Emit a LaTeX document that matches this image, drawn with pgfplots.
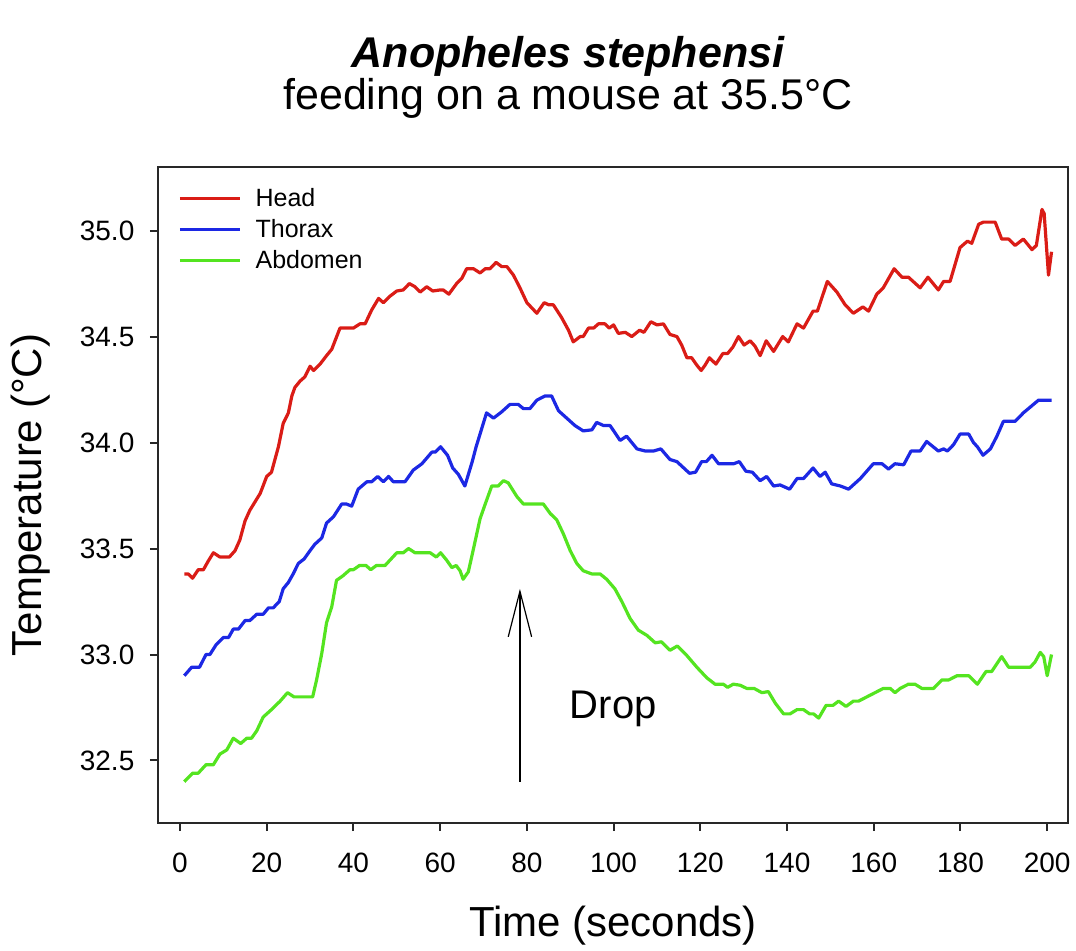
\documentclass[border=0pt]{standalone}
\usepackage{fontspec}
\setmainfont{Liberation Sans}
\usepackage{pgfplots}
\pgfplotsset{compat=1.18}
\usetikzlibrary{arrows.meta}
\definecolor{headred}{RGB}{218,28,22}
\definecolor{thoraxblue}{RGB}{28,40,228}
\definecolor{abdgreen}{RGB}{84,228,32}
\definecolor{framegray}{RGB}{40,40,40}

\begin{document}
\begin{tikzpicture}
\begin{axis}[
  at={(0pt,0pt)}, anchor=south west,
  scale only axis, width=455pt, height=328pt,
  xmin=-5.07, xmax=204.8, ymin=32.205, ymax=35.30,
  axis line style={framegray, line width=1pt},
  xtick={0,20,40,60,80,100,120,140,160,180,200},
  ytick={32.5,33.0,33.5,34.0,34.5,35.0},
  tick pos=left, tick align=outside, major tick length=4pt,
  tick style={framegray, line width=1pt},
  tick label style={font=\fontsize{14}{16}\selectfont, text=black},
  /pgf/number format/assume math mode=true,
  yticklabel style={/pgf/number format/fixed, /pgf/number format/fixed zerofill, /pgf/number format/precision=1, xshift=-4.3pt},
  xticklabel style={yshift=-7.3pt},
  xlabel={Time (seconds)},
  xlabel style={at={(rel axis cs:0.5,0)}, anchor=base, yshift=-56.5pt, font=\fontsize{21}{24}\selectfont},
  ylabel={Temperature (°C)},
  ylabel style={at={([xshift=-58pt]rel axis cs:0,0.5)}, rotate=0, anchor=base, font=\fontsize{21}{24}\selectfont},
  legend style={at={(0,1)}, anchor=north west, xshift=10pt, yshift=-10.45pt, draw=none, fill=none, inner sep=0pt,
    font=\fontsize{12.5}{15}\selectfont, row sep=4.9pt, nodes={inner sep=0pt},
    /tikz/every odd column/.append style={column sep=7pt}},
  legend cell align=left,
  legend image code/.code={\draw[#1] (0pt,0pt) -- (30pt,0pt);},
  every axis plot/.append style={line width=1.6pt, line join=round},
]
\addplot[headred] coordinates {
(1,33.38) (1.9,33.38) (2.9,33.36) (4.2,33.40) (5.4,33.40) (6.5,33.44) (7.7,33.48) (9.2,33.46) (11.4,33.46) (12.7,33.49) (13.8,33.54) (15.0,33.63) (16.1,33.68) (18.5,33.76) (20.0,33.84) (21.1,33.86) (22.7,33.98) (23.8,34.09) (25.0,34.14) (25.8,34.22) (26.5,34.26) (27.7,34.29) (28.8,34.31) (30.0,34.36) (30.8,34.34) (32.3,34.37) (33.8,34.41) (35.0,34.44) (36.9,34.54) (38.5,34.54) (40.0,34.54) (41.5,34.56) (42.7,34.56) (44.2,34.625) (45.8,34.68) (46.9,34.66) (48.4,34.69) (50.0,34.715) (51.5,34.72) (52.9,34.75) (54.2,34.735) (55.4,34.71) (56.9,34.735) (58.3,34.715) (60.0,34.72) (60.7,34.72) (62.0,34.70) (63.8,34.75) (65.0,34.775) (66.1,34.82) (67.7,34.82) (69.2,34.80) (70.4,34.82) (71.5,34.82) (72.9,34.85) (74.2,34.83) (75.4,34.83) (76.9,34.79) (78.4,34.73) (80.0,34.66) (82.3,34.61) (84.0,34.66) (85.0,34.65) (86.1,34.65) (88.0,34.59) (89.6,34.53) (90.7,34.475) (92.3,34.50) (93.0,34.50) (94.2,34.54) (95.4,34.54) (96.5,34.56) (98.0,34.56) (99.0,34.54) (100.0,34.555) (101.1,34.515) (102.7,34.52) (104.2,34.50) (106.0,34.53) (107.0,34.52) (108.6,34.57) (110.0,34.555) (111.5,34.56) (113.0,34.51) (114.6,34.50) (115.7,34.46) (116.9,34.40) (118.0,34.40) (119.2,34.365) (120.2,34.34) (121.1,34.365) (122.1,34.40) (123.6,34.37) (125.2,34.42) (126.3,34.42) (127.5,34.45) (128.8,34.50) (130.1,34.46) (131.5,34.48) (132.6,34.455) (133.8,34.41) (135.2,34.48) (136.9,34.43) (139.0,34.50) (140.3,34.475) (142.3,34.56) (143.8,34.54) (146.0,34.62) (147.0,34.62) (149.3,34.76) (151.5,34.71) (153.4,34.65) (155.3,34.61) (157.5,34.64) (158.8,34.62) (160.7,34.70) (162.2,34.73) (164.7,34.82) (166.5,34.78) (168.0,34.78) (170.7,34.73) (172.5,34.78) (174.9,34.72) (176.1,34.76) (177.6,34.76) (179.9,34.92) (181.6,34.95) (182.6,34.94) (184.2,35.03) (185.3,35.04) (188.0,35.04) (189.5,34.96) (191.1,34.96) (192.6,34.93) (194.5,34.96) (196.5,34.91) (197.5,34.93) (198.8,35.10) (199.3,35.08) (200.3,34.79) (201.0,34.90)
};
\addlegendentry{Head}
\addplot[thoraxblue] coordinates {
(1,32.90) (2.7,32.94) (4.5,32.94) (6.0,33.00) (6.9,33.00) (8.3,33.045) (10.0,33.08) (11.2,33.08) (12.3,33.12) (13.5,33.12) (15.0,33.16) (16.1,33.16) (17.7,33.19) (19.2,33.19) (20.4,33.22) (21.5,33.22) (22.9,33.25) (23.8,33.31) (25.0,33.34) (26.1,33.38) (27.3,33.43) (28.6,33.45) (30.0,33.49) (31.1,33.52) (32.7,33.55) (33.8,33.62) (35.4,33.65) (37.3,33.71) (38.4,33.71) (39.6,33.70) (41.1,33.78) (43.1,33.815) (44.2,33.815) (45.6,33.84) (46.9,33.815) (48.1,33.84) (49.2,33.815) (51.9,33.815) (53.8,33.87) (55.8,33.90) (58.1,33.955) (58.9,33.955) (60.1,33.98) (61.7,33.94) (62.9,33.88) (64.2,33.85) (65.7,33.795) (67.4,33.91) (68.3,33.98) (69.2,34.04) (70.7,34.14) (72.3,34.115) (74.2,34.145) (76.1,34.18) (78.0,34.18) (79.2,34.16) (80.7,34.16) (82.3,34.20) (84.2,34.22) (85.7,34.22) (87.3,34.15) (89.2,34.115) (91.1,34.08) (93.0,34.055) (95.0,34.06) (96.1,34.095) (97.7,34.08) (99.2,34.08) (101.5,34.01) (103.0,34.03) (105.4,33.97) (107.3,33.96) (109.2,33.96) (110.9,33.97) (113.0,33.92) (114.6,33.91) (117.5,33.855) (118.9,33.86) (120.3,33.91) (121.4,33.91) (122.7,33.94) (124.2,33.90) (127.7,33.90) (129.0,33.91) (130.5,33.865) (132.0,33.86) (133.8,33.82) (135.3,33.84) (136.9,33.795) (138.4,33.80) (140.6,33.78) (142.3,33.83) (143.8,33.83) (146.0,33.88) (147.6,33.84) (148.8,33.86) (150.3,33.805) (152.3,33.795) (154.2,33.78) (156.9,33.83) (159.9,33.90) (161.9,33.90) (163.4,33.875) (164.9,33.90) (166.9,33.895) (168.6,33.96) (170.7,33.96) (172.2,34.005) (174.9,33.96) (176.1,33.97) (177.0,33.96) (178.4,33.99) (179.9,34.04) (181.9,34.04) (183.0,34.00) (183.9,33.98) (185.2,33.94) (186.9,33.97) (188.4,34.03) (189.9,34.10) (192.6,34.10) (194.5,34.14) (198.0,34.20) (201.0,34.20)
};
\addlegendentry{Thorax}
\addplot[abdgreen] coordinates {
(1,32.40) (2.9,32.44) (4.2,32.44) (6.0,32.48) (7.7,32.48) (9.2,32.53) (10.8,32.55) (12.3,32.605) (14.0,32.58) (15.4,32.605) (16.5,32.605) (17.7,32.64) (19.2,32.705) (21.1,32.74) (23.1,32.78) (24.8,32.82) (26.3,32.80) (30.6,32.80) (31.5,32.88) (32.7,33.005) (33.8,33.15) (35.0,33.225) (36.1,33.35) (37.5,33.37) (39.2,33.40) (40.0,33.40) (41.4,33.42) (42.9,33.42) (44.0,33.40) (45.3,33.42) (47.3,33.42) (50.0,33.48) (51.5,33.48) (52.7,33.50) (54.2,33.48) (57.7,33.48) (59.1,33.46) (60.1,33.48) (61.5,33.445) (62.7,33.41) (63.7,33.42) (64.6,33.395) (65.3,33.355) (66.5,33.39) (67.7,33.50) (69.2,33.64) (70.4,33.71) (71.9,33.795) (73.4,33.795) (74.6,33.82) (75.7,33.81) (77.7,33.745) (79.2,33.71) (81.1,33.71) (83.8,33.71) (85.4,33.665) (86.9,33.635) (88.4,33.57) (90.0,33.49) (91.5,33.43) (93.0,33.395) (95.0,33.38) (96.9,33.38) (98.4,33.355) (100.3,33.31) (101.9,33.25) (103.8,33.17) (105.7,33.115) (107.7,33.09) (109.6,33.055) (111.0,33.06) (113.0,33.02) (114.7,33.04) (116.9,32.995) (119.2,32.94) (121.5,32.89) (123.4,32.86) (125.3,32.86) (126.3,32.845) (127.6,32.86) (129.2,32.855) (130.7,32.84) (132.4,32.84) (134.2,32.82) (135.7,32.825) (137.3,32.77) (139.2,32.72) (140.7,32.72) (142.3,32.74) (143.8,32.74) (145.2,32.72) (146.1,32.72) (147.3,32.70) (149.0,32.76) (150.6,32.76) (151.9,32.78) (153.6,32.755) (155.3,32.78) (156.5,32.78) (158.4,32.80) (160.3,32.82) (162.2,32.84) (163.8,32.84) (164.9,32.82) (166.1,32.84) (168.0,32.86) (169.5,32.86) (171.1,32.84) (173.8,32.84) (175.7,32.88) (177.3,32.88) (179.2,32.90) (181.9,32.90) (183.9,32.86) (185.9,32.92) (187.2,32.92) (189.5,32.99) (191.1,32.94) (196.1,32.94) (197.2,32.965) (198.4,33.01) (199.2,32.99) (200.0,32.90) (201.0,33.00)
};
\addlegendentry{Abdomen}
\addplot[black, line width=0.6pt, -{Straight Barb[length=22.8pt, width=11.7pt]}, forget plot] coordinates {(78.4,32.40) (78.4,33.31)};
\node[anchor=base, font=\fontsize{20}{23}\selectfont] at (axis cs:99.9,32.70) {Drop};
\end{axis}
\node[anchor=base, font=\fontsize{21.5}{25}\selectfont\bfseries\itshape] at (205pt,378pt) {Anopheles stephensi};
\node[anchor=base, font=\fontsize{21.5}{25}\selectfont] at (205pt,357pt) {feeding on a mouse at 35.5°C};
\pgfresetboundingbox
\path[use as bounding box] (-79pt,-63.5pt) rectangle (459pt,411.5pt);
\end{tikzpicture}
\end{document}
